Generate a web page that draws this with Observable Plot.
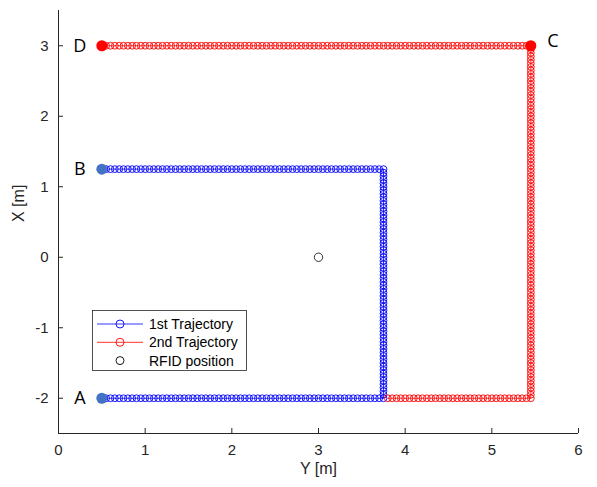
<!DOCTYPE html>
<html>
<head>
<meta charset="utf-8">
<script src="https://cdn.jsdelivr.net/npm/d3@7"></script>
<script src="https://cdn.jsdelivr.net/npm/@observablehq/plot@0.6"></script>
<style>
  html, body { margin: 0; padding: 0; background: #fff; }
  #chart { position: relative; width: 597px; height: 487px; }
</style>
</head>
<body>
<div id="chart"></div>
<script>
// ---- Data ----
const xTicks = [0, 1, 2, 3, 4, 5, 6];
const yTicks = [-2, -1, 0, 1, 2, 3];

// sampled positions along the 1st trajectory
const blueX = [0.50,0.55,0.60,0.65,0.70,0.75,0.80,0.85,0.90,0.95,1.00,1.05,1.10,1.15,1.20,1.25,1.30,1.35,1.40,1.45,1.50,1.55,1.60,1.65,1.70,1.75,1.80,1.85,1.90,1.95,2.00,2.05,2.10,2.15,2.20,2.25,2.30,2.35,2.40,2.45,2.50,2.55,2.60,2.65,2.70,2.75,2.80,2.85,2.90,2.95,3.00,3.05,3.10,3.15,3.20,3.25,3.30,3.35,3.40,3.45,3.50,3.55,3.60,3.65,3.70,3.75];
const blueY = [-2.00,-1.95,-1.90,-1.85,-1.80,-1.75,-1.70,-1.65,-1.60,-1.55,-1.50,-1.45,-1.40,-1.35,-1.30,-1.25,-1.20,-1.15,-1.10,-1.05,-1.00,-0.95,-0.90,-0.85,-0.80,-0.75,-0.70,-0.65,-0.60,-0.55,-0.50,-0.45,-0.40,-0.35,-0.30,-0.25,-0.20,-0.15,-0.10,-0.05,0.00,0.05,0.10,0.15,0.20,0.25,0.30,0.35,0.40,0.45,0.50,0.55,0.60,0.65,0.70,0.75,0.80,0.85,0.90,0.95,1.00,1.05,1.10,1.15,1.20,1.25];
const blueBottomY = -2.00;
const blueCornerX = 3.75;
const blueTopY = 1.25;

// sampled positions along the 2nd trajectory
const redBottomX = [3.80,3.85,3.90,3.95,4.00,4.05,4.10,4.15,4.20,4.25,4.30,4.35,4.40,4.45,4.50,4.55,4.60,4.65,4.70,4.75,4.80,4.85,4.90,4.95,5.00,5.05,5.10,5.15,5.20,5.25,5.30,5.35,5.40,5.45];
const redUpperY = [1.30,1.35,1.40,1.45,1.50,1.55,1.60,1.65,1.70,1.75,1.80,1.85,1.90,1.95,2.00,2.05,2.10,2.15,2.20,2.25,2.30,2.35,2.40,2.45,2.50,2.55,2.60,2.65,2.70,2.75,2.80,2.85,2.90,2.95,3.00];
const redBottomY = -2.00;
const redCornerX = 5.45;
const redTopY = 3.00;

// RFID position
const rfidX = [3];
const rfidY = [0];

// labelled waypoints
const wpNames = ["A", "B", "C", "D"];
const wpX = [0.5, 0.5, 5.45, 0.5];
const wpY = [-2, 1.25, 3, 3];
const wpSeries = ["1st", "1st", "2nd", "2nd"];

// legend entries
const legendLabels = ["1st Trajectory", "2nd Trajectory", "RFID position"];

// ---- Build tables ----
const traj1 = [
  ...blueX.map(x => ({x, y: blueBottomY})),
  ...blueY.slice(1).map(y => ({x: blueCornerX, y})),
  ...blueX.slice().reverse().slice(1).map(x => ({x, y: blueTopY}))
];
const redAllY = [...blueY, ...redUpperY];
const redTopX = [...blueX, ...redBottomX].reverse();
const traj2 = [
  ...redBottomX.map(x => ({x, y: redBottomY})),
  ...redAllY.slice(1).map(y => ({x: redCornerX, y})),
  ...redTopX.slice(1).map(x => ({x, y: redTopY}))
];
const waypoints = wpNames.map((n, i) => ({name: n, x: wpX[i], y: wpY[i], s: wpSeries[i]}));
const rfid = rfidX.map((x, i) => ({x, y: rfidY[i]}));

const BLUE = "#0000ff", RED = "#ff0000", AXIS = "#262626";
const FILL_BLUE = "#4472c4";
const fmt = d => String(d);

const plot = Plot.plot({
  width: 597,
  height: 487,
  marginLeft: 58,
  marginRight: 19,
  marginTop: 10,
  marginBottom: 54,
  x: {domain: [0, 6]},
  y: {domain: [-2.5, 3.5]},
  style: {fontFamily: "'Liberation Sans', Arial, sans-serif", background: "white", color: AXIS},
  marks: [
    // axis lines
    Plot.ruleY([-2.5], {stroke: AXIS, strokeWidth: 1}),
    Plot.ruleX([0], {stroke: AXIS, strokeWidth: 1}),
    // inward ticks
    Plot.axisX(xTicks, {tickSize: -5, text: null, label: null, stroke: AXIS}),
    Plot.axisY(yTicks, {tickSize: -5, text: null, label: null, stroke: AXIS}),
    // tick labels
    Plot.axisX(xTicks, {tickSize: 0, tickPadding: 11, label: null, fontSize: 15, fill: AXIS, tickFormat: fmt}),
    Plot.axisY(yTicks, {tickSize: 0, tickPadding: 10, label: null, fontSize: 15, fill: AXIS, tickFormat: fmt}),
    // axis titles
    Plot.text(["Y [m]"], {text: d => d, frameAnchor: "bottom", dy: 40, fontSize: 16, fill: AXIS}),
    Plot.text(["X [m]"], {text: d => d, frameAnchor: "left", dx: -40, rotate: -90, fontSize: 16, fill: AXIS}),
    // trajectories
    Plot.line(traj1, {x: "x", y: "y", stroke: BLUE, strokeWidth: 0.8}),
    Plot.dot(traj1, {x: "x", y: "y", r: 3.4, stroke: BLUE, strokeWidth: 0.9, fill: "none"}),
    Plot.line(traj2, {x: "x", y: "y", stroke: RED, strokeWidth: 0.8}),
    Plot.dot(traj2, {x: "x", y: "y", r: 3.4, stroke: RED, strokeWidth: 0.9, fill: "none"}),
    // RFID
    Plot.dot(rfid, {x: "x", y: "y", r: 4.2, stroke: "#000", strokeWidth: 0.8, fill: "none"}),
    // waypoints
    Plot.dot(waypoints, {x: "x", y: "y", r: 5.5, fill: d => d.s === "1st" ? FILL_BLUE : RED, stroke: "none"}),
    Plot.text(waypoints.filter(d => d.name !== "C"), {x: "x", y: "y", text: "name", dx: -22, fontSize: 18, fill: "#000", fontFamily: "'Open Sans', 'Noto Sans', sans-serif"}),
    Plot.text(waypoints.filter(d => d.name === "C"), {x: "x", y: "y", text: "name", dx: 22, dy: -5, fontSize: 18, fill: "#000", fontFamily: "'Open Sans', 'Noto Sans', sans-serif"})
  ]
});

document.getElementById("chart").appendChild(plot);

// ---- Legend (inside the axes, as in the original) ----
const svg = d3.select(plot);
const lg = svg.append("g")
  .attr("font-family", "'Liberation Sans', Arial, sans-serif")
  .attr("font-size", 14)
  .attr("text-anchor", "start");
lg.append("rect").attr("x", 92.5).attr("y", 310.5).attr("width", 154).attr("height", 60)
  .attr("fill", "white").attr("stroke", AXIS).attr("stroke-width", 0.8);
const legendColors = [BLUE, RED, "#000"];
const legendHasLine = [true, true, false];
legendLabels.forEach((label, i) => {
  const cy = 324 + i * 18.3;
  const color = legendColors[i];
  if (legendHasLine[i]) lg.append("line").attr("x1", 97).attr("x2", 143).attr("y1", cy).attr("y2", cy).attr("stroke", color).attr("stroke-width", 0.8);
  lg.append("circle").attr("cx", 120).attr("cy", cy).attr("r", 4).attr("fill", "none").attr("stroke", color).attr("stroke-width", 0.9);
  lg.append("text").attr("x", 149).attr("y", cy).attr("dy", "0.35em").attr("fill", "#000").text(label);
});
</script>
</body>
</html>
